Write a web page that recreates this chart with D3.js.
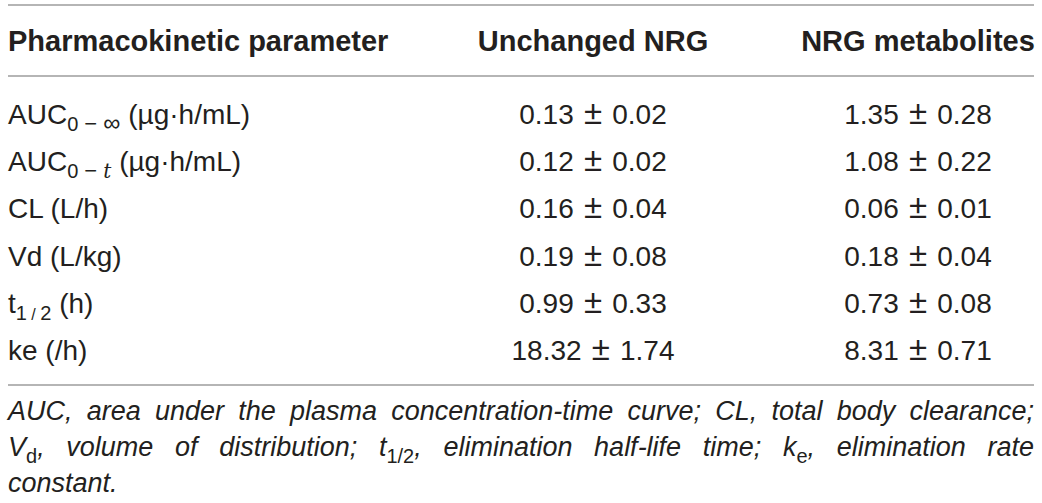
<!DOCTYPE html>
<html>
<head>
<meta charset="utf-8">
<script src="https://cdn.jsdelivr.net/npm/d3@7"></script>
<style>
  body { margin: 0; background: #fff; }
  svg text { font-family: "Liberation Sans", Arial, sans-serif; fill: #231f20; }
</style>
</head>
<body>
<div id="table"></div>
<script>
const width = 1042;
const height = 503;

// table content
const headers = ["Pharmacokinetic parameter", "Unchanged NRG", "NRG metabolites"];
const paramNames = ["AUC", "AUC", "CL", "Vd", "t", "ke"];
const paramSubs = [["0", " − ", "∞"], ["0", " − ", "t"], [], [], ["1", " / ", "2"], []];
const paramUnits = ["(µg·h/mL)", "(µg·h/mL)", "(L/h)", "(L/kg)", "(h)", "(/h)"];
const unchangedMean = [0.13, 0.12, 0.16, 0.19, 0.99, 18.32];
const unchangedSD = [0.02, 0.02, 0.04, 0.08, 0.33, 1.74];
const metabMean = [1.35, 1.08, 0.06, 0.18, 0.73, 8.31];
const metabSD = [0.28, 0.22, 0.01, 0.04, 0.08, 0.71];

// footnote, one array of words per line; [text, style] where style: i=italic, s=upright subscript
const footLines = [
    [[["AUC,", "i"]], [["area", "i"]], [["under", "i"]], [["the", "i"]], [["plasma", "i"]], [["concentration-time", "i"]], [["curve;", "i"]],
     [["CL,", "i"]], [["total", "i"]], [["body", "i"]], [["clearance;", "i"]]],
    [[["V", "i"], ["d", "s"], [",", "i"]], [["volume", "i"]], [["of", "i"]], [["distribution;", "i"]],
     [["t", "i"], ["1/2", "s"], [",", "i"]], [["elimination", "i"]], [["half-life", "i"]], [["time;", "i"]],
     [["k", "i"], ["e", "s"], [",", "i"]], [["elimination", "i"]], [["rate", "i"]]],
    [[["constant.", "i"]]]
];

const fmt = d3.format(".2f");
const left = 8, right = 1034;
const fs = 28;

const svg = d3.select("#table")
    .append("svg")
        .attr("width", width)
        .attr("height", height);

// baselines of the body rows
const row = d3.scalePoint()
    .domain(d3.range(paramNames.length))
    .range([124, 360]);

const col = d3.scaleOrdinal()
    .domain(["unchanged", "metab"])
    .range([593, 918]);

// horizontal rules
svg.selectAll("line.rule")
    .data([5, 76, 385])
    .join("line")
        .attr("class", "rule")
        .attr("x1", left)
        .attr("x2", right)
        .attr("y1", d => d)
        .attr("y2", d => d)
        .attr("stroke", "#9d9d9d")
        .attr("stroke-width", 1.6);

// header
const headX = [left, col("unchanged"), col("metab")];
svg.append("g")
    .selectAll("text")
    .data(headers)
    .join("text")
        .attr("x", (d, i) => headX[i])
        .attr("y", 51)
        .attr("text-anchor", (d, i) => i == 0 ? "start" : "middle")
        .attr("font-size", 29)
        .attr("font-weight", "bold")
        .text(d => d);

// parameter labels
const label = svg.append("g")
    .selectAll("text")
    .data(paramNames)
    .join("text")
        .attr("x", left)
        .attr("y", (d, i) => row(i))
        .attr("font-size", fs);

label.append("tspan").text(d => d);
label.each(function(d, i) {
    const t = d3.select(this);
    const sub = paramSubs[i];
    if (sub.length) {
        sub.forEach((s, j) => {
            const ts = t.append("tspan")
                .attr("font-size", 20)
                .text(s);
            if (j == 0) ts.attr("dy", 7);
            if (s == "t") ts.attr("font-style", "italic").attr("font-family", "DejaVu Serif");
            if (s == " − ") ts.attr("font-size", 22);
            if (s == "∞") ts.attr("font-size", 24);
            if (s.trim() == "/") ts.attr("font-size", 16);
        });
        t.append("tspan").attr("dy", -7).text(" " + paramUnits[i]);
    } else {
        t.append("tspan").text(" " + paramUnits[i]);
    }
});

// values, mean ± SD
function valueCells(means, sds, cx) {
    const t = svg.append("g")
        .selectAll("text")
        .data(means)
        .join("text")
            .attr("x", cx)
            .attr("y", (d, i) => row(i))
            .attr("text-anchor", "middle")
            .attr("font-size", fs);
    t.append("tspan").text(d => fmt(d));
    t.append("tspan").attr("dx", 1).attr("font-size", 33).text(" ± ");
    t.append("tspan").attr("dx", 1).text((d, i) => fmt(sds[i]));
}
valueCells(unchangedMean, unchangedSD, col("unchanged"));
valueCells(metabMean, metabSD, col("metab"));

// footnote, justified word by word
const foot = svg.append("g");
footLines.forEach((words, li) => {
    const y = 420 + li * 36;
    const nodes = words.map(w => {
        const t = foot.append("text")
            .attr("y", y)
            .attr("font-size", 27)
            .attr("font-style", "italic");
        w.forEach(([s, st], k) => {
            const ts = t.append("tspan").text(s);
            if (st == "s") ts.attr("font-style", "normal").attr("font-size", 20).attr("dy", 7);
            else if (k > 0 && w[k - 1][1] == "s") ts.attr("dy", -7);
        });
        return t;
    });
    const widths = nodes.map(n => n.node().getComputedTextLength());
    const total = d3.sum(widths);
    const last = li == footLines.length - 1;
    const gap = last ? 7 : (right - left - total) / (nodes.length - 1);
    let x = left;
    nodes.forEach((n, k) => {
        n.attr("x", x);
        x += widths[k] + gap;
    });
});
</script>
</body>
</html>
